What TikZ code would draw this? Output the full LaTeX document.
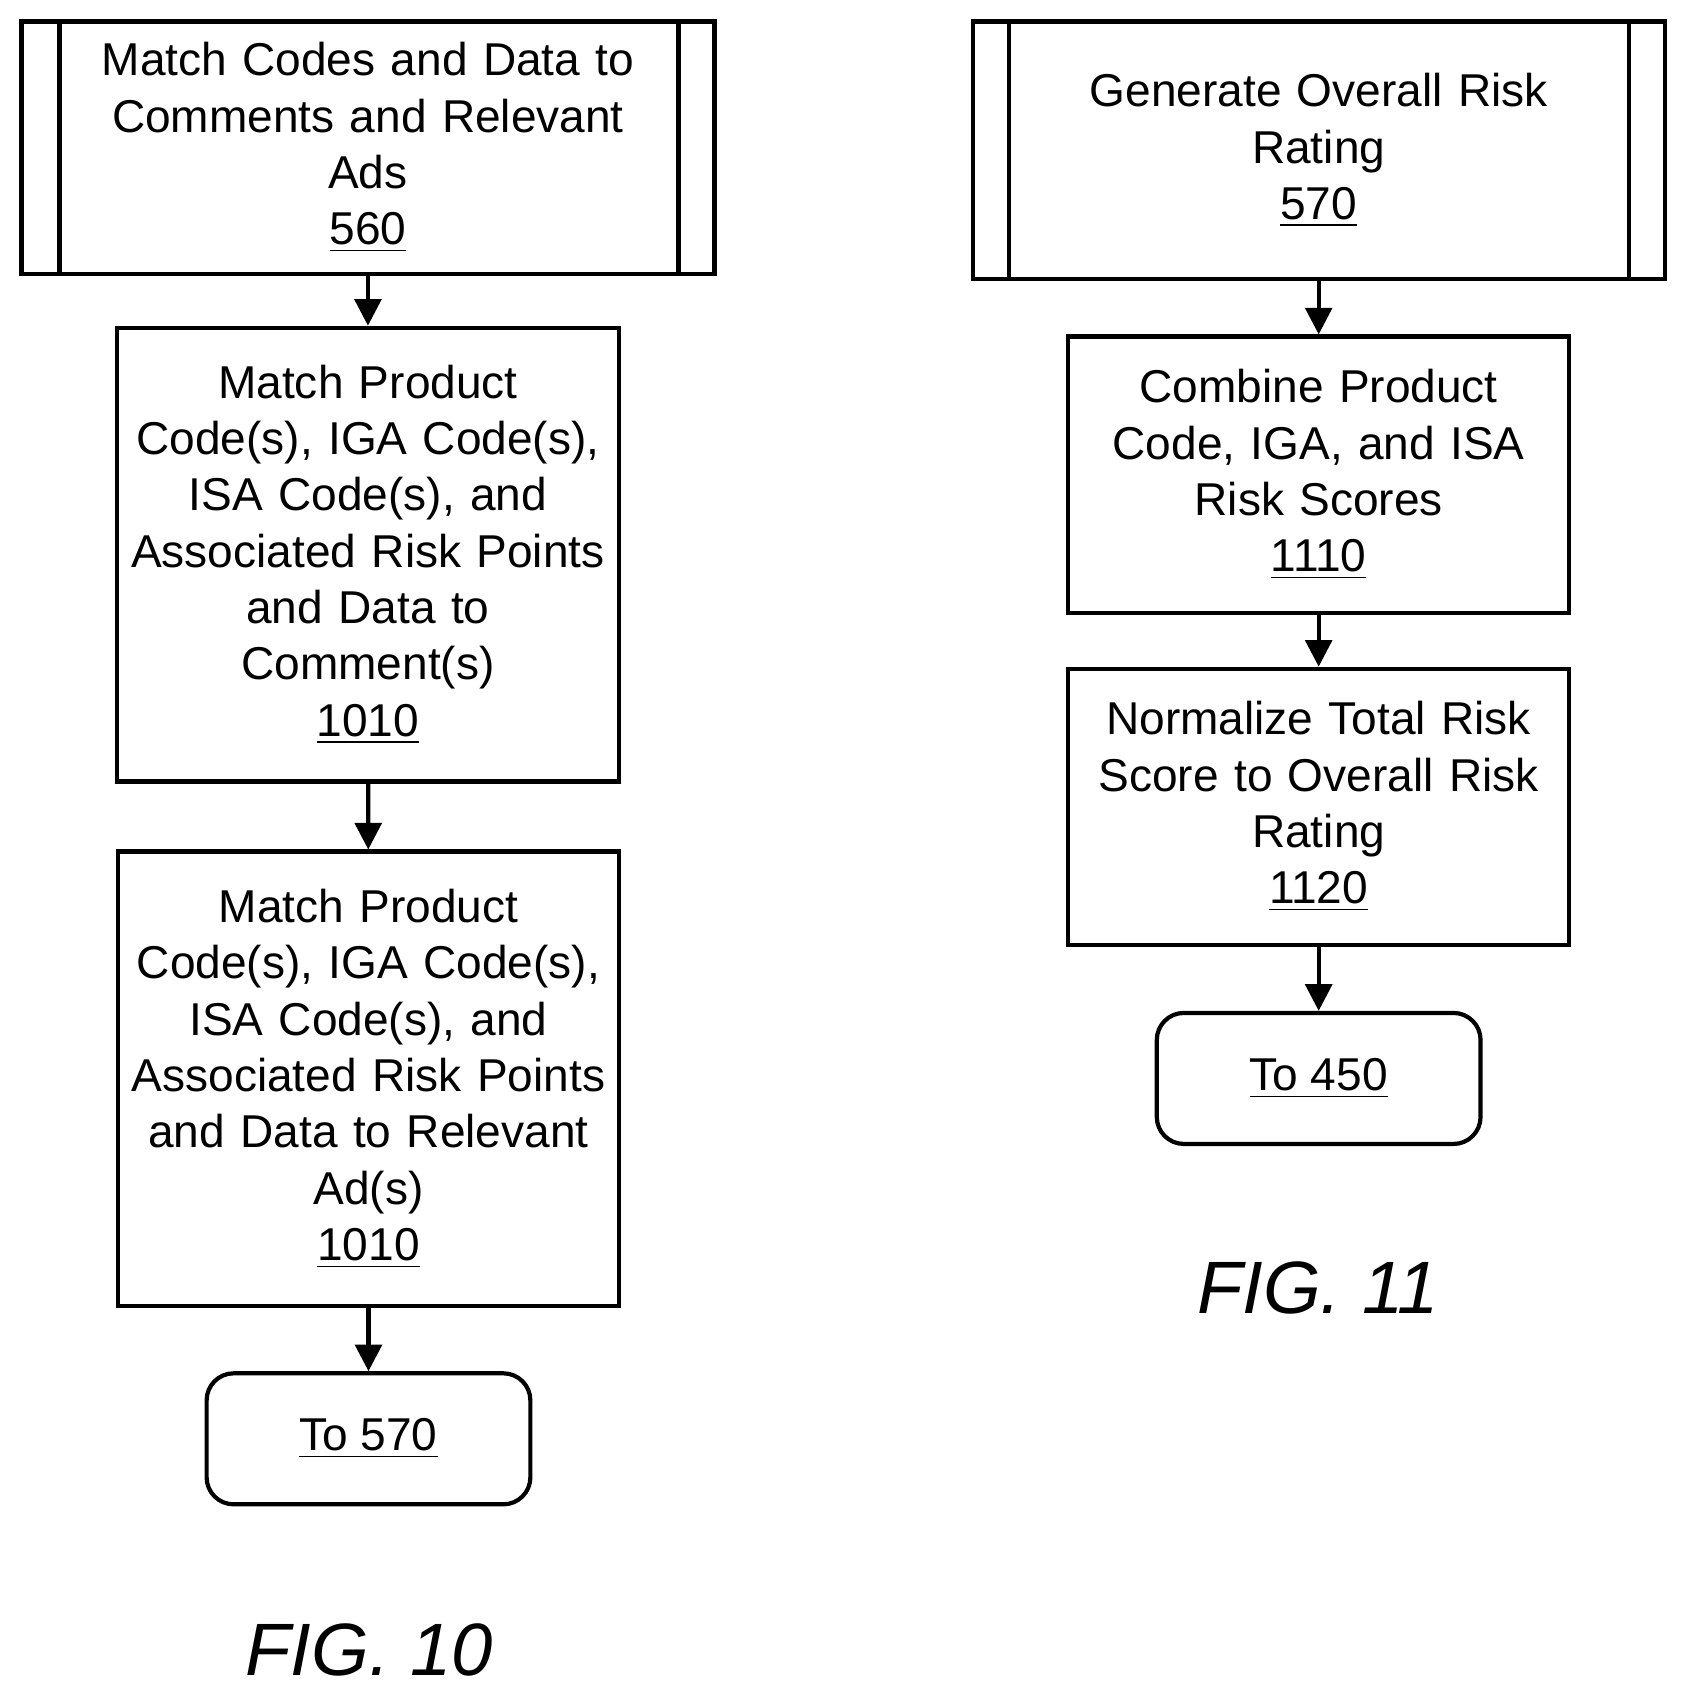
\documentclass[tikz,border=0pt]{standalone}
\usepackage{fontspec}
\setmainfont{Liberation Sans}
\usetikzlibrary{arrows.meta}
\begin{document}
\begin{tikzpicture}[x=0.01cm,y=-0.01cm,
  box/.style={draw,line width=1.1pt,align=center,inner sep=0pt,font=\fontsize{12.1}{14.8}\selectfont},
  arr/.style={line width=1.1pt,-{Triangle[length=7pt,width=7pt]}},
  fig/.style={font=\fontsize{19.5}{24}\selectfont\itshape}]
\useasboundingbox (0,0) rectangle (1560,1569);
% FIG 10
\node[box,minimum width=6.4cm,minimum height=2.33cm,text width=5.7cm] (a) at (340,136.5) {Match Codes and Data to\\Comments and Relevant\\Ads\\\underline{560}};
\draw[line width=1.1pt] (55,20) -- (55,253) (627,20) -- (627,253);
\node[box,minimum width=4.64cm,minimum height=4.19cm,text width=4.62cm] (b) at (340,512.5) {Match Product\\Code(s), IGA Code(s),\\ISA Code(s), and\\Associated Risk Points\\and Data to\\Comment(s)\\\underline{1010}};
\node[box,minimum width=4.63cm,minimum height=4.2cm,text width=4.62cm] (c) at (340.5,997) {Match Product\\Code(s), IGA Code(s),\\ISA Code(s), and\\Associated Risk Points\\and Data to Relevant\\Ad(s)\\\underline{1010}};
\node[box,rounded corners=0.25cm,minimum width=2.99cm,minimum height=1.21cm] (d) at (340.5,1329.5) {\underline{To 570}};
\node[fig] (f10) at (341,1525) {FIG. 10};
\draw[arr] (a) -- (b);
\draw[arr] (b) -- (c);
\draw[arr] (c) -- (d);
% FIG 11
\node[box,minimum width=6.39cm,minimum height=2.38cm,text width=5.7cm] (e) at (1218.5,139) {Generate Overall Risk\\Rating\\\underline{570}};
\draw[line width=1.1pt] (932,20) -- (932,258) (1505,20) -- (1505,258);
\node[box,minimum width=4.63cm,minimum height=2.55cm,text width=4.5cm] (g) at (1218.5,438.5) {Combine Product\\Code, IGA, and ISA\\Risk Scores\\\underline{1110}};
\node[box,minimum width=4.63cm,minimum height=2.55cm,text width=4.5cm] (h) at (1218.5,745.5) {Normalize Total Risk\\Score to Overall Risk\\Rating\\\underline{1120}};
\node[box,rounded corners=0.25cm,minimum width=2.99cm,minimum height=1.21cm] (i) at (1218.5,996.5) {\underline{To 450}};
\node[fig] (f11) at (1218,1190) {FIG. 11};
\draw[arr] (e) -- (g);
\draw[arr] (g) -- (h);
\draw[arr] (h) -- (i);
\end{tikzpicture}
\end{document}
